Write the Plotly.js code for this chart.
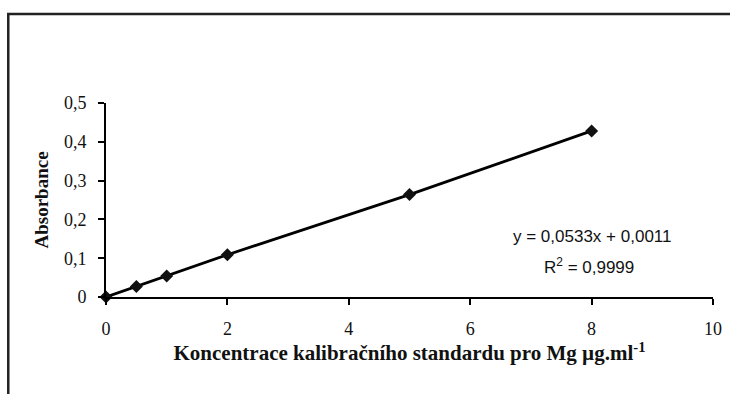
<!DOCTYPE html>
<html><head><meta charset="utf-8">
<script src="https://cdn.plot.ly/plotly-3.0.1.min.js"></script>
<style>html,body{margin:0;padding:0;background:#fff}#chart{width:730px;height:394px}</style>
</head><body><div id="chart"></div>
<script>
const concentrations = [0, 0.5, 1, 2, 5, 8];
const absorbance = [0, 0.027, 0.054, 0.109, 0.264, 0.428];
const xTicks = [0, 2, 4, 6, 8, 10];
const yTicks = [0, 0.1, 0.2, 0.3, 0.4, 0.5];
const equationLine = 'y = 0,0533x + 0,0011';
const r2Line = 'R<sup>2</sup> = 0,9999';

const serif = 'Liberation Serif, Times New Roman, serif';
const sans = 'Liberation Sans, Arial, sans-serif';

const trace = {
  x: concentrations, y: absorbance, type: 'scatter', mode: 'lines+markers',
  line: {color: '#000', width: 2.8},
  marker: {symbol: 'diamond', size: 10, color: '#111'},
  cliponaxis: false, hoverinfo: 'skip'
};

const layout = {
  width: 730, height: 394,
  margin: {l: 106, r: 17, t: 103, b: 97},
  paper_bgcolor: '#fff', plot_bgcolor: '#fff',
  separators: ', ',
  showlegend: false,
  font: {family: serif, color: '#111', size: 18},
  xaxis: {
    range: [0, 10], tickvals: xTicks, showgrid: false, zeroline: false,
    showline: true, linecolor: '#000', linewidth: 2,
    ticks: 'outside', ticklen: 6, tickwidth: 2, tickcolor: '#000',
    ticklabelstandoff: 8,
    tickfont: {family: serif, size: 18, color: '#111'},
    title: {text: 'Koncentrace kalibračního standardu pro Mg µg.ml<sup>-1</sup>',
            font: {family: serif, size: 21, weight: 'bold', color: '#111'}, standoff: 7},
    automargin: false
  },
  yaxis: {
    range: [0, 0.5], tickvals: yTicks, showgrid: false, zeroline: false,
    showline: true, linecolor: '#000', linewidth: 2,
    ticks: 'outside', ticklen: 6, tickwidth: 2, tickcolor: '#000',
    ticklabelstandoff: 8,
    tickfont: {family: serif, size: 18, color: '#111'},
    title: {text: 'Absorbance', font: {family: serif, size: 19, weight: 'bold', color: '#111'}, standoff: 10},
    automargin: false
  },
  annotations: [
    {x: 8.0, y: 0.155, xref: 'x', yref: 'y', text: equationLine, showarrow: false,
     font: {family: sans, size: 17, color: '#111'}},
    {x: 7.96, y: 0.079, xref: 'x', yref: 'y', text: r2Line, showarrow: false,
     font: {family: sans, size: 17, color: '#111'}}
  ],
  shapes: [{
    type: 'path', xref: 'paper', yref: 'paper',
    path: 'M 1.2 1.459 L -0.161 1.459 L -0.161 -0.6',
    line: {color: '#222', width: 2.5}
  }]
};

Plotly.newPlot('chart', [trace], layout, {displayModeBar: false, staticPlot: true});
</script></body></html>
